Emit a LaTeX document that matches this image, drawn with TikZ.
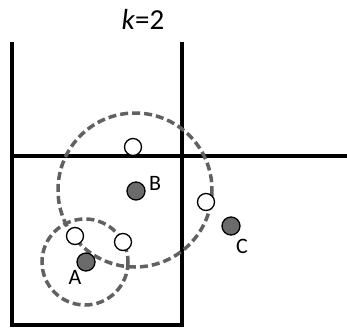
\documentclass[tikz,border=0pt]{standalone}
\usepackage{fontspec}
\setmainfont{Carlito}
\begin{document}
\begin{tikzpicture}[x=1pt,y=-1pt,
  grid/.style={line width=4pt,black},
  rangec/.style={draw=black!62,line width=3.5pt,dash pattern=on 8pt off 4pt},
  cand/.style={circle,draw=black,line width=1.3pt,fill=white,minimum size=17pt,inner sep=0pt},
  pnt/.style={circle,draw=black,line width=1.3pt,fill=black!58,minimum size=18pt,inner sep=0pt},
  lab/.style={font=\fontsize{22}{22}\selectfont,inner sep=0pt}]
\useasboundingbox (0,0) rectangle (347,327);
\node[font=\fontsize{29}{29}\selectfont] (title) at (143,19) {\textit{k}=2};
% grid
\coordinate (tl) at (12,42);
\coordinate (bl) at (12,325);
\coordinate (tm) at (182,42);
\coordinate (bm) at (182,325);
\coordinate (ml) at (12,156);
\coordinate (mr) at (347,156);
\draw[grid] (tl) -- (bl);
\draw[grid] (tm) -- (bm);
\draw[grid] (ml) -- (mr);
\draw[grid,line cap=rect] (bl) -- (bm);
% range circles
\draw[rangec] (135,190) circle[radius=77];
\draw[rangec] (85,262) circle[radius=43];
% candidate points
\node[cand] (p1) at (133,147) {};
\node[cand] (p2) at (206,202) {};
\node[cand] (p3) at (75,236) {};
\node[cand] (p4) at (123,242) {};
% query points
\node[pnt] (B) at (136,191) {};
\node[pnt] (A) at (86,262) {};
\node[pnt] (C) at (231,226) {};
\node[lab] (lB) at (155,183) {B};
\node[lab] (lA) at (75,277) {A};
\node[lab] (lC) at (242,246) {C};
\end{tikzpicture}
\end{document}
